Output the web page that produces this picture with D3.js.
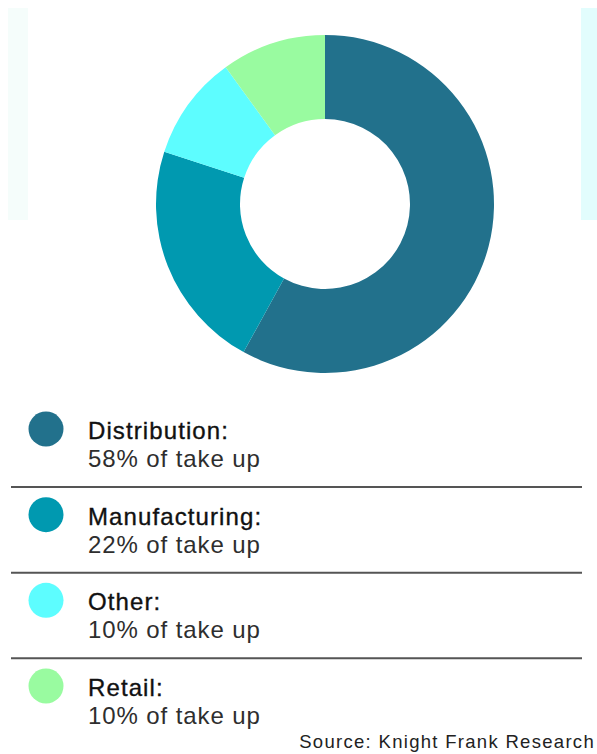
<!DOCTYPE html>
<html>
<head>
<meta charset="utf-8">
<script src="https://cdn.jsdelivr.net/npm/d3@7"></script>
<style>
  html, body { margin: 0; padding: 0; background: #ffffff; }
  svg { display: block; }
</style>
</head>
<body>
<svg id="chart" width="597" height="754"></svg>
<script>
const categories = ["Distribution", "Manufacturing", "Other", "Retail"];
const values = [58, 22, 10, 10];
const colors = ["#22718c", "#0099b0", "#5dfdff", "#99fba0"];
const sourceText = "Source: Knight Frank Research";

const svg = d3.select("#chart");

// faint background strips
svg.append("rect").attr("x", 8).attr("y", 8).attr("width", 20).attr("height", 212).attr("fill", "#f5fdfb");
svg.append("rect").attr("x", 581).attr("y", 8).attr("width", 16).attr("height", 212).attr("fill", "#e2fdfd");

const cx = 325, cy = 204, R = 169, r = 85;
const pie = d3.pie().sort(null).value(d => d.v);
const arc = d3.arc().innerRadius(r).outerRadius(R);
const data = categories.map((c, i) => ({ c, v: values[i], col: colors[i] }));

svg.append("g").attr("transform", `translate(${cx},${cy})`)
  .selectAll("path").data(pie(data)).join("path")
  .attr("d", arc).attr("fill", d => d.data.col);

const rowY = d3.scalePoint().domain(categories).range([429, 686]);

const leg = svg.append("g");
data.forEach((d, i) => {
  const y = rowY(d.c);
  leg.append("circle").attr("cx", 46).attr("cy", y).attr("r", 17.5).attr("fill", d.col);
  leg.append("text").attr("x", 88).attr("y", y + 10)
    .attr("font-family", "Liberation Sans, Arial, sans-serif").attr("font-size", 24)
    .attr("letter-spacing", 1.1).attr("fill", "#111").attr("stroke", "#111").attr("stroke-width", 0.35)
    .text(d.c + ":");
  leg.append("text").attr("x", 88).attr("y", y + 38)
    .attr("font-family", "Liberation Sans, Arial, sans-serif").attr("font-size", 24)
    .attr("letter-spacing", 0.9).attr("fill", "#2e2e2e").text(d.v + "% of take up");
  if (i < data.length - 1) {
    leg.append("line").attr("x1", 11).attr("x2", 582)
      .attr("y1", y + 58).attr("y2", y + 58)
      .attr("stroke", "#555").attr("stroke-width", 2);
  }
});

svg.append("text").attr("x", 595).attr("y", 748).attr("text-anchor", "end")
  .attr("font-family", "Liberation Sans, Arial, sans-serif").attr("font-size", 18.5)
  .attr("letter-spacing", 1.3).attr("fill", "#222").text(sourceText);
</script>
</body>
</html>
